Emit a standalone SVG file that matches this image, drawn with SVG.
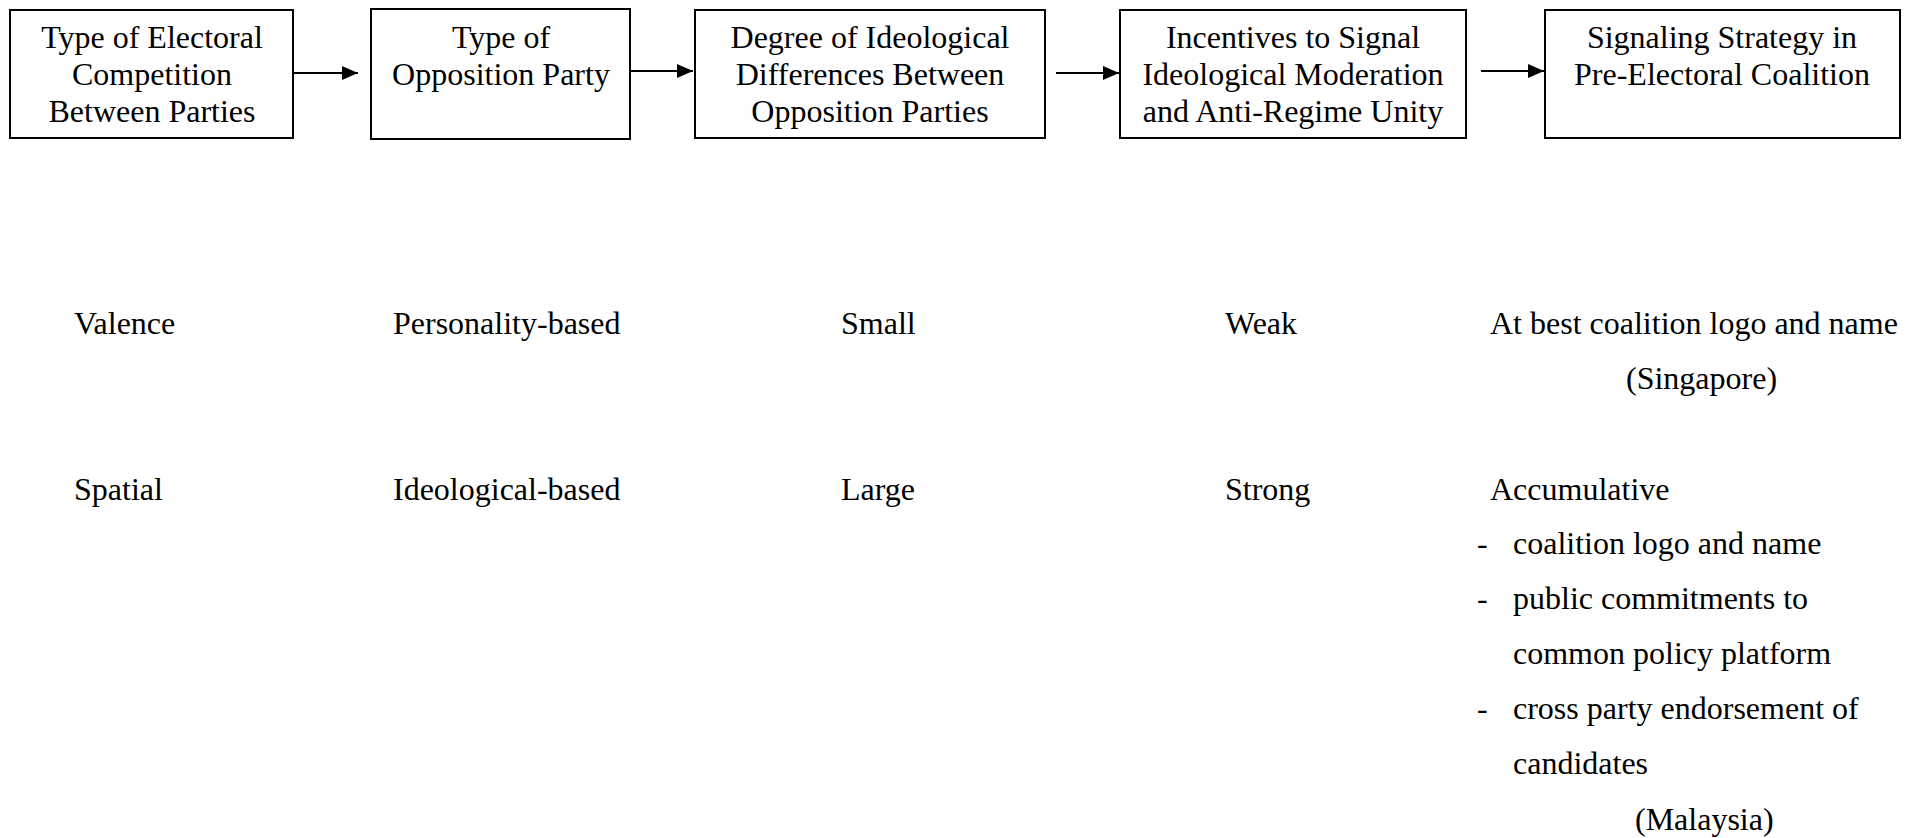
<svg xmlns="http://www.w3.org/2000/svg" width="1915" height="838" viewBox="0 0 1915 838">
<style>
text{font-family:"Liberation Serif","Times New Roman",serif;font-size:32px;fill:#000}
.c{text-anchor:middle}
.box{fill:#fff;stroke:#000;stroke-width:2}
.conn{stroke:#000;stroke-width:2;fill:none;marker-end:url(#ah)}
</style>
<defs>
<marker id="ah" markerWidth="16" markerHeight="14" refX="16" refY="7" orient="auto" markerUnits="userSpaceOnUse">
<path d="M0,0 L16,7 L0,14 Z" fill="#000"/>
</marker>
</defs>
<rect width="1915" height="838" fill="#fff"/>
<g id="connectors">
<line class="conn" x1="294" y1="73" x2="358" y2="73"/>
<line class="conn" x1="631" y1="71" x2="693" y2="71"/>
<line class="conn" x1="1056" y1="73" x2="1119" y2="73"/>
<line class="conn" x1="1481" y1="71" x2="1544" y2="71"/>
</g>
<g id="n1">
<rect class="box" x="10" y="10" width="283" height="128"/>
<text class="c" x="152" y="48">Type of Electoral</text>
<text class="c" x="152" y="85">Competition</text>
<text class="c" x="152" y="122">Between Parties</text>
</g>
<g id="n2">
<rect class="box" x="371" y="9" width="259" height="130"/>
<text class="c" x="501" y="48">Type of</text>
<text class="c" x="501" y="85">Opposition Party</text>
</g>
<g id="n3">
<rect class="box" x="695" y="10" width="350" height="128"/>
<text class="c" x="870" y="48">Degree of Ideological</text>
<text class="c" x="870" y="85">Differences Between</text>
<text class="c" x="870" y="122">Opposition Parties</text>
</g>
<g id="n4">
<rect class="box" x="1120" y="10" width="346" height="128"/>
<text class="c" x="1293" y="48">Incentives to Signal</text>
<text class="c" x="1293" y="85">Ideological Moderation</text>
<text class="c" x="1293" y="122">and Anti-Regime Unity</text>
</g>
<g id="n5">
<rect class="box" x="1545" y="10" width="355" height="128"/>
<text class="c" x="1722" y="48">Signaling Strategy in</text>
<text class="c" x="1722" y="85">Pre-Electoral Coalition</text>
</g>
<g id="row1">
<text x="74" y="334">Valence</text>
<text x="393" y="334">Personality-based</text>
<text x="841" y="334">Small</text>
<text x="1225" y="334">Weak</text>
<text x="1490" y="334">At best coalition logo and name</text>
<text x="1626" y="389">(Singapore)</text>
</g>
<g id="row2">
<text x="74" y="500">Spatial</text>
<text x="393" y="500">Ideological-based</text>
<text x="841" y="500">Large</text>
<text x="1225" y="500">Strong</text>
<text x="1490" y="500">Accumulative</text>
<text x="1477" y="554">-</text>
<text x="1513" y="554">coalition logo and name</text>
<text x="1477" y="609">-</text>
<text x="1513" y="609">public commitments to</text>
<text x="1513" y="664">common policy platform</text>
<text x="1477" y="719">-</text>
<text x="1513" y="719">cross party endorsement of</text>
<text x="1513" y="774">candidates</text>
<text x="1635" y="830">(Malaysia)</text>
</g>
</svg>
